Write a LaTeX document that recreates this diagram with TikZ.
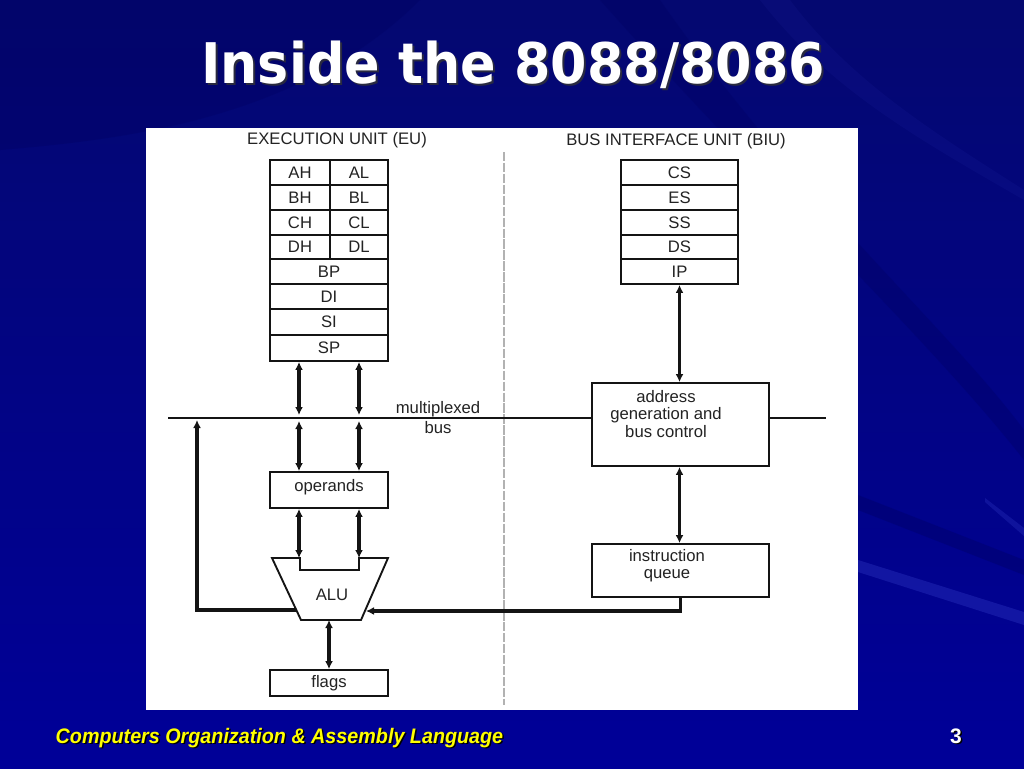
\documentclass[tikz,border=0pt]{standalone}
\usepackage{graphicx}
\usepackage{fontspec}
\setmainfont{Liberation Sans}
\newfontfamily\titlefont{DejaVu Sans}
\usetikzlibrary{arrows.meta,calc}
\definecolor{bgtop}{RGB}{4,8,112}
\definecolor{bgbot}{RGB}{0,0,152}
\definecolor{bgdark}{RGB}{0,0,95}
\definecolor{bglight}{RGB}{60,70,210}
\definecolor{linec}{RGB}{20,20,20}
\definecolor{textc}{RGB}{35,35,35}
\definecolor{footy}{RGB}{255,255,0}
\tikzset{
  dtext/.style={font=\fontsize{12.5}{13.5}\selectfont, text=textc},
  cell/.style 2 args={draw=linec, line width=1.4pt, minimum width=#1*0.75pt,
    minimum height=#2*0.75pt, inner sep=0pt, dtext},
  boxc/.style 2 args={draw=linec, line width=1.4pt, minimum width=#1*0.75pt,
    minimum height=#2*0.75pt, inner sep=0pt},
  ltext/.style={dtext, align=center, inner sep=0pt,
    font=\fontsize{12.5}{13.5}\selectfont},
  dbl/.style={draw=linec, line width=2.3pt,
    {Latex[length=6pt,width=6pt]}-{Latex[length=6pt,width=6pt]}},
  arr/.style={draw=linec, line width=2.3pt, -{Latex[length=6pt,width=6pt]}},
  busline/.style={draw=linec, line width=1.8pt},
  divider/.style={draw=gray!60, line width=0.8pt, dash pattern=on 7pt off 1.2pt},
}
\begin{document}
\begin{tikzpicture}[x=0.75pt,y=-0.75pt]
\useasboundingbox (0,0) rectangle (1024,768);
% background
\shade[top color=bgtop, bottom color=bgbot] (0,0) rectangle (1024,768);
\fill[bgdark, opacity=0.3] (0,0) -- (420,0) .. controls (300,120) and (120,140) .. (0,150) -- cycle;
\fill[bgdark, opacity=0.3] (600,0) -- (660,0) .. controls (800,200) and (950,330) .. (1024,430) -- (1024,460) .. controls (930,340) and (760,180) .. (600,0) -- cycle;
\fill[bgdark, opacity=0.35] (858,495) -- (1024,560) -- (1024,575) -- (858,510) -- cycle;
\fill[bglight, opacity=0.3] (858,560) -- (1024,612) -- (1024,625) -- (858,572) -- cycle;
\fill[bglight, opacity=0.25] (985,498) -- (1024,528) -- (1024,536) -- (985,502) -- cycle;
\fill[bglight, opacity=0.08] (760,0) -- (790,0) .. controls (850,80) and (930,130) .. (1024,190) -- (1024,200) .. controls (920,140) and (830,90) .. (760,0) -- cycle;
% title
\node[anchor=base, text=black!80, opacity=0.8] (titlesh) at (515,85)
  {\titlefont\bfseries\fontsize{42}{46}\selectfont\scalebox{0.935}[1]{Inside the 8088/8086}};
\node[anchor=base, text=white] (title) at (513,83)
  {\titlefont\bfseries\fontsize{42}{46}\selectfont\scalebox{0.935}[1]{Inside the 8088/8086}};
% footer
\node[anchor=base west, text=black] (footsh) at (52.5,744.5)
  {\fontsize{15.75}{17}\selectfont\bfseries\itshape\scalebox{0.94}[1]{Computers Organization \& Assembly Language}};
\node[anchor=base west, text=footy] (foot) at (51,743)
  {\fontsize{15.75}{17}\selectfont\bfseries\itshape\scalebox{0.94}[1]{Computers Organization \& Assembly Language}};
\node[anchor=base, text=black] (pagesh) at (957.5,744.5) {\fontsize{15.75}{17}\selectfont\bfseries 3};
\node[anchor=base, text=white] (page) at (956,743) {\fontsize{15.75}{17}\selectfont\bfseries 3};
% white panel
\fill[white] (146,128) rectangle (858,710);
% section titles
\node[ltext] (eut) at (337,140) {EXECUTION UNIT (EU)};
\node[ltext] (biut) at (676,141) {BUS INTERFACE UNIT (BIU)};
% divider
\coordinate (dT) at (504,152);
\coordinate (dB) at (504,705);
\draw[divider] (dT) -- (dB);
% EU registers
\node[cell={60}{25}] (AH) at (300,172.5) {AH};
\node[cell={58}{25}] (AL) at (359,172.5) {AL};
\node[cell={60}{25}] (BH) at (300,197.5) {BH};
\node[cell={58}{25}] (BL) at (359,197.5) {BL};
\node[cell={60}{25}] (CH) at (300,222.5) {CH};
\node[cell={58}{25}] (CL) at (359,222.5) {CL};
\node[cell={60}{24}] (DH) at (300,247) {DH};
\node[cell={58}{24}] (DL) at (359,247) {DL};
\node[cell={118}{25}] (BP) at (329,271.5) {BP};
\node[cell={118}{25}] (DI) at (329,296.5) {DI};
\node[cell={118}{26}] (SI) at (329,322) {SI};
\node[cell={118}{26}] (SP) at (329,348) {SP};
% BIU registers
\node[cell={117}{25}] (CS) at (679.5,172.5) {CS};
\node[cell={117}{25}] (ES) at (679.5,197.5) {ES};
\node[cell={117}{25}] (SS) at (679.5,222.5) {SS};
\node[cell={117}{24}] (DS) at (679.5,247) {DS};
\node[cell={117}{25}] (IP) at (679.5,271.5) {IP};
% boxes
\node[boxc={118}{36}] (ops) at (329,490) {};
\node[ltext] (opst) at (329,487) {operands};
\node[boxc={118}{26}] (flags) at (329,683) {};
\node[ltext] (flagst) at (329,683) {flags};
\node[boxc={177}{83}] (addr) at (680.5,424.5) {};
\node[ltext, font=\fontsize{12.5}{13.5}\selectfont] (addrt) at (666,414)
  {address\\[-0.5pt]generation and\\[-0.5pt]bus control};
\node[boxc={177}{53}] (queue) at (680.5,570.5) {};
\node[ltext] (queuet) at (667,566) {instruction\\[-0.5pt]queue};
% ALU
\coordinate (a1) at (272,558);
\coordinate (a2) at (300,558);
\coordinate (a3) at (300,570);
\coordinate (a4) at (359,570);
\coordinate (a5) at (359,558);
\coordinate (a6) at (388,558);
\coordinate (a7) at (361,620);
\coordinate (a8) at (301,620);
\draw[draw=linec, line width=1.4pt, line join=miter] (a1) -- (a2) -- (a3) -- (a4) -- (a5) -- (a6) -- (a7) -- (a8) -- cycle;
\node[dtext] (alu) at (332,595) {ALU};
% bus
\coordinate (busL) at (168,418);
\coordinate (busR) at (826,418);
\coordinate (xL) at (299,418);
\coordinate (xR) at (359,418);
\draw[busline] (busL) -- (busL -| addr.west);
\draw[busline] (busR -| addr.east) -- (busR);
\node[ltext, font=\fontsize{12.5}{15}\selectfont] (bust) at (438,418) {multiplexed\\bus};
% EU arrows
\draw[dbl] (SP.south -| xL) -- ($(xL)+(0,-3)$);
\draw[dbl] (SP.south -| xR) -- ($(xR)+(0,-3)$);
\draw[dbl] ($(xL)+(0,3)$) -- (ops.north -| xL);
\draw[dbl] ($(xR)+(0,3)$) -- (ops.north -| xR);
\draw[dbl] (ops.south -| xL) -- (a1 -| xL);
\draw[dbl] (ops.south -| xR) -- (a1 -| xR);
\coordinate (aluB) at (329,620);
\draw[dbl] (aluB) -- (flags.north -| aluB);
% feedback from ALU to bus
\coordinate (fbS) at (296,610);
\coordinate (fbC) at (197,610);
\draw[arr, line join=miter] (fbS) -- (fbC) -- ($(busL -| fbC)+(0,2)$);
% queue to ALU
\coordinate (qin) at (366,611);
\draw[arr, line join=miter] (queue.south) |- (qin);
% BIU arrows
\draw[dbl] (IP.south) -- (IP.south |- addr.north);
\draw[dbl] (addr.south -| IP.south) -- (queue.north -| IP.south);
\end{tikzpicture}
\end{document}
